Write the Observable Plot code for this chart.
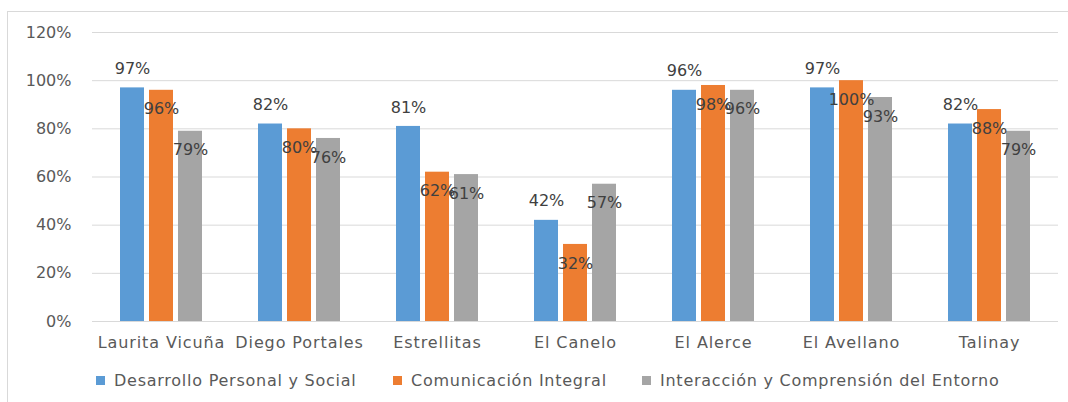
<!DOCTYPE html>
<html><head><meta charset="utf-8">
<script src="https://cdn.jsdelivr.net/npm/d3@7"></script>
<script src="https://cdn.jsdelivr.net/npm/@observablehq/plot@0.6"></script>
<style>
body{margin:0;background:#fff;font-family:"DejaVu Sans",sans-serif;}
#frame{position:absolute;left:7px;top:11px;width:1080px;height:400px;border:1px solid #d9d9d9;box-sizing:border-box;}
#chart{position:absolute;left:0;top:0;}
#chart g[aria-label^="fx-axis"] text{letter-spacing:0.9px;}
.item{position:absolute;top:359px;display:flex;align-items:center;font-size:16px;letter-spacing:0.75px;color:#595959;white-space:nowrap;}
.sw{width:9px;height:9px;margin-right:9px;display:inline-block;}
</style></head><body>
<div id="frame"><div id="chart"></div><div id="legend"></div></div>
<script>
const categories = ["Laurita Vicuña","Diego Portales","Estrellitas","El Canelo","El Alerce","El Avellano","Talinay"];
const series = ["Desarrollo Personal y Social","Comunicación Integral","Interacción y Comprensión del Entorno"];
const desarrollo = [97,82,81,42,96,97,82];
const comunicacion = [96,80,62,32,98,100,88];
const interaccion = [79,76,61,57,96,93,79];
const yTicks = [0,20,40,60,80,100,120];
const colors = ["#5B9BD5","#ED7D31","#A5A5A5"];
const legendLeft = [88,385,634];

const valuesBySeries = [desarrollo, comunicacion, interaccion];
const data = categories.flatMap((c,i)=>series.map((s,j)=>({cat:c, serie:s, value:valuesBySeries[j][i]})));

const chart = Plot.plot({
  width: 1060, height: 345,
  marginLeft: 84, marginRight: 10, marginTop: 20, marginBottom: 36,
  style: {fontFamily: "'DejaVu Sans', sans-serif", fontSize: "16px", color: "#595959", background: "transparent"},
  fx: {domain: categories, padding: 0, label: null, axis: "bottom", tickSize: 0, tickPadding: 15},
  x: {domain: series, paddingInner: 0.17, paddingOuter: 0.92, axis: null},
  y: {domain: [0,120], ticks: yTicks, tickFormat: d => d + "%", label: null, tickSize: 0, tickPadding: 21},
  color: {domain: series, range: colors},
  marks: [
    Plot.ruleY(yTicks, {stroke: "#d9d9d9", strokeWidth: 1}),
    Plot.barY(data, {fx: "cat", x: "serie", y: "value", fill: "serie"}),
    Plot.text(data.filter(d => d.serie === series[0]), {fx: "cat", x: "serie", y: "value", text: d => d.value + "%", dy: -19, fill: "#404040", fontSize: 16}),
    Plot.text(data.filter(d => d.serie !== series[0]), {fx: "cat", x: "serie", y: "value", text: d => d.value + "%", dy: 19, fill: "#404040", fontSize: 16})
  ]
});
document.getElementById("chart").appendChild(chart);

const legend = document.getElementById("legend");
series.forEach((s,i)=>{
  const it = document.createElement("div");
  it.className = "item";
  it.style.left = legendLeft[i] + "px";
  it.innerHTML = `<span class="sw" style="background:${colors[i]}"></span><span>${s}</span>`;
  legend.appendChild(it);
});
</script>
</body></html>
